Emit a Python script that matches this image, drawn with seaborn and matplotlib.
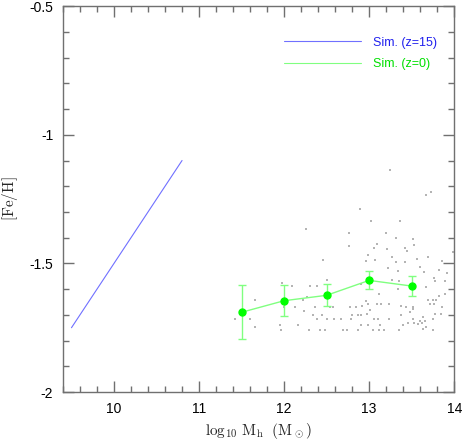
import numpy as np
import pandas as pd
import matplotlib
matplotlib.use("Agg")
import matplotlib.pyplot as plt
import seaborn as sns
from matplotlib.ticker import MultipleLocator, FormatStrFormatter
from matplotlib.lines import Line2D

# blue simulation line (z=15)
z15_mass = [9.5, 10.8]
z15_feh = [-1.75, -1.1]

# binned z=0 values with error bars
z0_mass = [11.5, 12.0, 12.5, 13.0, 13.5]
z0_feh = [-1.69, -1.645, -1.624, -1.566, -1.588]
z0_err = [0.105, 0.061, 0.043, 0.035, 0.04]

# individual halos at z=0 (small grey dots)
halo_mass = [12.26, 12.46, 11.97, 12.09, 12.31, 12.39, 12.51, 11.66, 12.27, 12.22,
             12.00, 12.13, 12.36, 12.54, 12.57, 12.23, 11.42, 11.60, 12.34, 12.44,
             12.39, 12.50, 12.59, 11.66, 11.95, 12.16, 11.96, 12.29, 12.42, 12.48,
             13.67, 13.73, 12.89, 13.02, 13.36, 12.76, 13.20, 13.31, 13.51, 12.76,
             13.09, 13.21, 13.06, 13.42, 13.53, 13.44, 13.98, 12.99, 13.27, 13.56,
             13.69, 12.96, 13.07, 13.31, 13.42, 13.86, 13.22, 13.60, 13.34, 13.64,
             13.82, 13.76, 13.92, 13.27, 13.35, 13.78, 13.89, 12.91, 13.67, 13.11,
             13.34, 13.82, 13.89, 13.69, 13.75, 13.79, 12.96, 12.99, 13.09, 13.14,
             13.23, 13.72, 13.76, 12.77, 12.84, 12.92, 13.37, 13.43, 13.52, 13.86,
             13.01, 13.48, 13.51, 12.80, 12.87, 12.91, 12.98, 13.38, 13.63, 13.78,
             13.84, 12.67, 12.79, 13.06, 13.10, 13.23, 13.51, 13.60, 13.66, 13.75,
             13.46, 13.53, 13.57, 13.62, 12.90, 12.99, 13.13, 13.40, 12.69, 12.74,
             12.87, 13.04, 13.11, 13.17, 13.35, 13.63, 13.67, 13.75, 13.24]
halo_feh = [-1.365, -1.486, -1.577, -1.588, -1.586, -1.586, -1.566, -1.642, -1.631, -1.643,
            -1.669, -1.669, -1.669, -1.669, -1.669, -1.684, -1.718, -1.718, -1.701, -1.701,
            -1.718, -1.718, -1.718, -1.746, -1.738, -1.738, -1.758, -1.758, -1.758, -1.758,
            -1.234, -1.224, -1.288, -1.334, -1.334, -1.382, -1.382, -1.401, -1.407, -1.431,
            -1.426, -1.444, -1.440, -1.440, -1.427, -1.453, -1.456, -1.468, -1.476, -1.481,
            -1.476, -1.491, -1.486, -1.495, -1.495, -1.491, -1.519, -1.514, -1.530, -1.532,
            -1.525, -1.556, -1.537, -1.566, -1.568, -1.568, -1.568, -1.581, -1.590, -1.620,
            -1.600, -1.626, -1.620, -1.642, -1.642, -1.642, -1.645, -1.656, -1.656, -1.656,
            -1.656, -1.656, -1.656, -1.669, -1.669, -1.666, -1.666, -1.669, -1.669, -1.669,
            -1.681, -1.687, -1.677, -1.699, -1.702, -1.699, -1.697, -1.699, -1.710, -1.697,
            -1.697, -1.718, -1.718, -1.718, -1.715, -1.718, -1.718, -1.723, -1.723, -1.718,
            -1.730, -1.733, -1.735, -1.733, -1.738, -1.738, -1.738, -1.738, -1.758, -1.758,
            -1.758, -1.758, -1.758, -1.758, -1.758, -1.756, -1.748, -1.758, -1.138]

halos = pd.DataFrame({"mass": halo_mass, "feh": halo_feh})
z15 = pd.DataFrame({"mass": z15_mass, "feh": z15_feh})

sns.set_style("ticks")
plt.rcParams["font.family"] = ["Liberation Sans", "DejaVu Sans"]
plt.rcParams["axes.unicode_minus"] = False
plt.rcParams["mathtext.fontset"] = "cm"

fig = plt.figure(figsize=(4.63, 4.40), dpi=100)
# top edge a few pixels down so the "-0.5" label is not clipped
ax = fig.add_axes([0.136, 0.109, 0.845, 0.877])

blue_line = "#7070ff"
green_line = "#80ff80"

sns.scatterplot(data=halos, x="mass", y="feh", ax=ax, marker="s", s=0.6,
                color="#b4b4b4", linewidth=0, legend=False)
sns.lineplot(data=z15, x="mass", y="feh", ax=ax, color=blue_line, linewidth=0.8)
ax.errorbar(z0_mass, z0_feh, yerr=z0_err, color=green_line, linewidth=1,
            capsize=3, capthick=1, marker="o", markersize=5,
            markerfacecolor="#00ff00", markeredgecolor="#00ff00")

ax.set_xlim(9.4, 14)
ax.set_ylim(-2.0, -0.5)
ax.xaxis.set_major_locator(MultipleLocator(1))
ax.xaxis.set_minor_locator(MultipleLocator(0.2))
ax.yaxis.set_major_locator(MultipleLocator(0.5))
ax.yaxis.set_minor_locator(MultipleLocator(0.1))
ax.yaxis.set_major_formatter(FormatStrFormatter("%g"))

ax.tick_params(which="both", direction="in", top=True, right=True,
               color="#707070", labelsize=10, labelcolor="black", pad=7)
ax.tick_params(which="major", length=8, width=1)
ax.tick_params(which="minor", length=4, width=1)
for sp in ax.spines.values():
    sp.set_color("#707070")
    sp.set_linewidth(1)

ax.set_xlabel(r"$\mathrm{log_{10}\ M_h\ \ (M_\odot)}$", fontsize=11, labelpad=4)
ax.set_ylabel(r"$\mathrm{[Fe/H]}$", fontsize=11, labelpad=7)

handles = [Line2D([], [], color=blue_line, linewidth=0.8),
           Line2D([], [], color=green_line, linewidth=0.8)]
ax.legend(handles, ["Sim. (z=15)", "Sim. (z=0)"], loc="upper right",
          frameon=False, fontsize=9, handlelength=6.2, handletextpad=0.95,
          labelspacing=0.75, labelcolor=["#2020ee", "#00e000"],
          bbox_to_anchor=(0.985, 0.95))

fig.savefig("out.png", dpi=100)
